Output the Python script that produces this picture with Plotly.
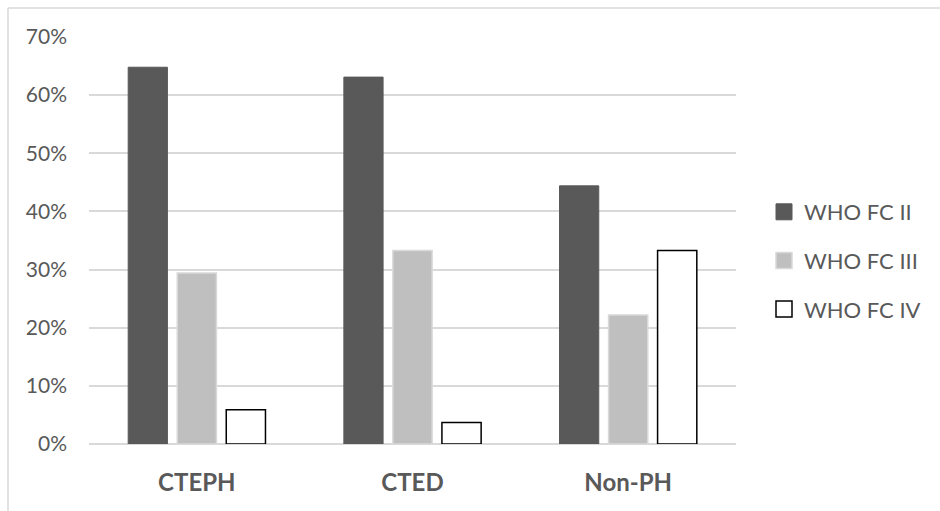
import plotly.graph_objects as go

categories = ["CTEPH", "CTED", "Non-PH"]
series_names = ["WHO FC II", "WHO FC III", "WHO FC IV"]
fc2 = [0.648, 0.631, 0.444]
fc3 = [0.294, 0.333, 0.222]
fc4 = [0.059, 0.037, 0.333]
y_ticks = [0, 0.1, 0.2, 0.3, 0.4, 0.5, 0.6, 0.7]

W, H = 940, 511
L, R, T, B = 89, 204, 37, 67
pw, ph = W - L - R, H - T - B

FONT = "Lato"
TXT = "#595959"

fig = go.Figure()
styles = [
    dict(color="#595959", line=dict(color="#595959", width=1)),
    dict(color="#bfbfbf", line=dict(color="#d9d9d9", width=1.5)),
    dict(color="#ffffff", line=dict(color="#000000", width=1.5)),
]
for name, vals, st in zip(series_names, [fc2, fc3, fc4], styles):
    fig.add_trace(go.Bar(x=categories, y=vals, name=name, marker=st, showlegend=False))

# legend-only entries with large square swatches
for name, st, g in zip(series_names, styles, ["a", "b", "c"]):
    fig.add_trace(go.Scatter(
        x=[None], y=[None], mode="markers", name=name, legendgroup=g,
        marker=dict(symbol="square", size=16, color=st["color"],
                    line=dict(color=st["line"]["color"], width=st["line"]["width"])),
    ))

def px_to_paper_x(p):
    return (p - L) / pw

def px_to_paper_y(p):
    return (H - B - p) / ph

fig.update_layout(
    width=W, height=H,
    margin=dict(l=L, r=R, t=T, b=B, pad=0, autoexpand=False),
    paper_bgcolor="white", plot_bgcolor="white",
    barmode="group", bargap=0.318, bargroupgap=0.2,
    font=dict(family=FONT, color=TXT, size=21),
    showlegend=True,
    legend=dict(
        x=px_to_paper_x(764), y=px_to_paper_y(191), xanchor="left", yanchor="top",
        font=dict(family=FONT, size=22, color=TXT),
        tracegroupgap=17, itemwidth=30, bgcolor="rgba(0,0,0,0)",
    ),
    yaxis=dict(
        range=[0, 0.7], tickvals=y_ticks, tickformat=".0%",
        showgrid=True, gridcolor="#d9d9d9", gridwidth=1.5,
        zeroline=True, zerolinecolor="#d9d9d9", zerolinewidth=1.5,
        showline=False, ticks="", ticklabelstandoff=21,
        tickfont=dict(family=FONT, size=21, color=TXT),
        fixedrange=True,
    ),
    xaxis=dict(
        showgrid=False, showline=False, ticks="", zeroline=False,
        ticklabelstandoff=22,
        tickfont=dict(family=FONT, size=24, color=TXT, weight="bold"),
    ),
    shapes=[
        dict(type="line", xref="paper", yref="paper",
             x0=px_to_paper_x(8), x1=px_to_paper_x(8),
             y0=px_to_paper_y(8), y1=px_to_paper_y(H + 5),
             line=dict(color="#d9d9d9", width=1.5)),
        dict(type="line", xref="paper", yref="paper",
             x0=px_to_paper_x(8), x1=px_to_paper_x(W + 5),
             y0=px_to_paper_y(8), y1=px_to_paper_y(8),
             line=dict(color="#d9d9d9", width=1.5)),
    ],
)

fig.write_html("out.html")
